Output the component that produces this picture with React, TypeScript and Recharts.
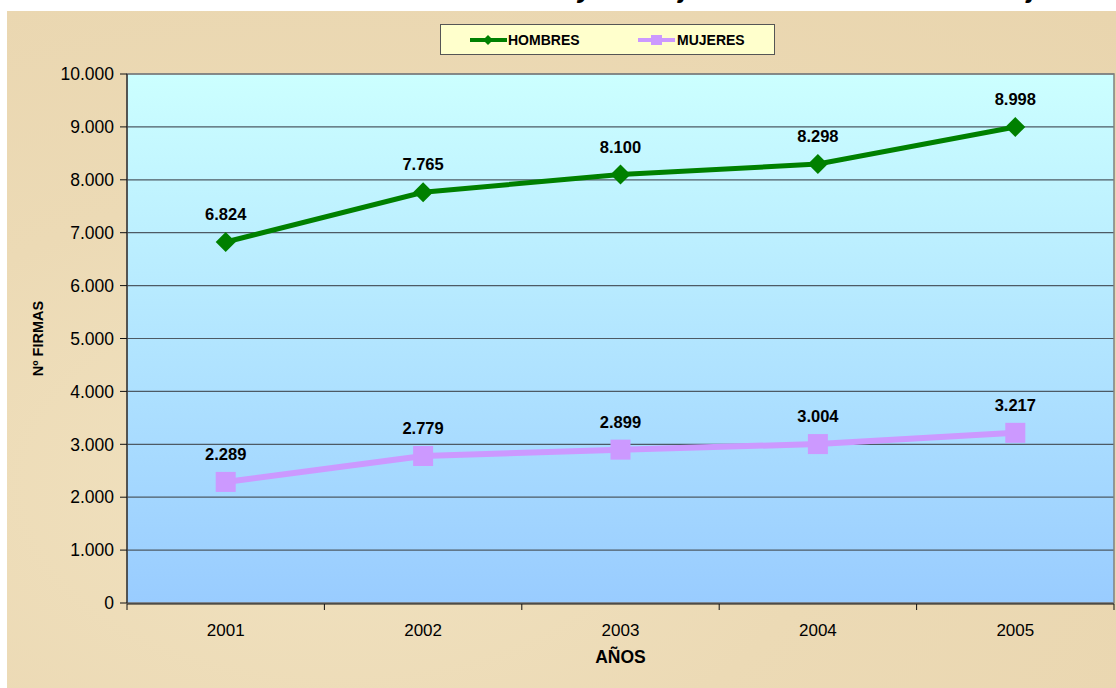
import { LineChart, Line, XAxis, YAxis, CartesianGrid, LabelList, ReferenceArea } from 'recharts';

const years = [2001, 2002, 2003, 2004, 2005];
const yearEdges = [2000.5, 2001.5, 2002.5, 2003.5, 2004.5, 2005.5];
const hombres = [6824, 7765, 8100, 8298, 8998];
const mujeres = [2289, 2779, 2899, 3004, 3217];
const yTicks = [0, 1000, 2000, 3000, 4000, 5000, 6000, 7000, 8000, 9000, 10000];

const data = years.map((year, i) => ({ year, hombres: hombres[i], mujeres: mujeres[i] }));

const FONT = '"Liberation Sans", Arial, sans-serif';
const GREEN = '#008000';
const LILAC = '#cc99ff';

const fmt = (v: number | string) => String(v).replace(/\B(?=(\d{3})+(?!\d))/g, '.');

const Diamond = (props: any) => {
  const { cx, cy } = props;
  if (cx == null || cy == null) return null;
  return <polygon points={`${cx},${cy - 10} ${cx + 10},${cy} ${cx},${cy + 10} ${cx - 10},${cy}`} fill={GREEN} />;
};

const Square = (props: any) => {
  const { cx, cy } = props;
  if (cx == null || cy == null) return null;
  return <rect x={cx - 10} y={cy - 10} width={20} height={20} fill={LILAC} />;
};

const YTitle = (props: any) => {
  const vb = props.viewBox || {};
  const cy = vb.y + vb.height / 2;
  return (
    <text x={43} y={cy} transform={`rotate(-90 43 ${cy})`} textAnchor="middle" fontFamily={FONT}
      fontSize={14.5} fontWeight="bold" fill="#000">
      Nº FIRMAS
    </text>
  );
};

const labelStyle = { fontFamily: FONT, fontSize: 16.5, fontWeight: 'bold', fill: '#000' };

export default function App() {
  return (
    <div style={{ position: 'absolute', left: 0, top: 0, width: 1116, height: 688, background: '#fff', overflow: 'hidden' }}>
      {/* clipped title at the very top */}
      <div style={{ position: 'absolute', left: 0, top: 0, width: 1116, height: 11, overflow: 'hidden',
        fontFamily: FONT, fontSize: 27, fontWeight: 'bold', fontStyle: 'italic', lineHeight: '27px', whiteSpace: 'nowrap' }}>
        <span style={{ position: 'absolute', right: 1116 - 578, top: -25 }}>Evolución anual del número de hombres </span>
        <span style={{ position: 'absolute', left: 578, top: -25 }}>y de mujeres en las firmas de trabajo</span>
      </div>
      <div style={{ position: 'absolute', left: 7, top: 11, width: 1109, height: 677,
        background: 'radial-gradient(ellipse at 30% 70%, #f1e2c0 0%, #ecdab5 45%, #e9d5ae 100%)' }} />
      <div style={{ position: 'absolute', left: 0, top: 0 }}>
        <LineChart width={1116} height={688} data={data} margin={{ top: 74, right: 2, bottom: 83, left: 0 }}>
          <defs>
            <linearGradient id="plotBg" x1="0" y1="0" x2="0" y2="1">
              <stop offset="0%" stopColor="#ccffff" />
              <stop offset="100%" stopColor="#99ccff" />
            </linearGradient>
          </defs>
          <CartesianGrid vertical={false} stroke="#4d5a64" strokeWidth={1.2} fill="url(#plotBg)" fillOpacity={1} />
          <ReferenceArea x1={2000.5} x2={2005.5} y1={0} y2={10000} fill="none" stroke="#808080" strokeWidth={1.5} />
          <XAxis xAxisId="edges" type="number" dataKey="year" domain={[2000.5, 2005.5]} ticks={yearEdges}
            height={1} tickFormatter={() => ''} tickSize={6} stroke="#111" tickLine={{ stroke: '#111' }}
            axisLine={{ stroke: '#111' }} allowDataOverflow />
          <XAxis type="number" dataKey="year" domain={[2000.5, 2005.5]} ticks={years} height={1}
            axisLine={false} tickLine={false} tickSize={0} tickMargin={21}
            tick={{ fontFamily: FONT, fontSize: 17, fill: '#000' }}
            label={{ value: 'AÑOS', position: 'bottom', offset: 47, fontFamily: FONT, fontSize: 17.5, fontWeight: 'bold', fill: '#000' }} />
          <YAxis width={127} domain={[0, 10000]} ticks={yTicks} tickFormatter={fmt} tickSize={7} tickMargin={6}
            stroke="#111" tick={{ fontFamily: FONT, fontSize: 17.5, fill: '#000' }} interval={0}
            label={<YTitle />} />
          <Line dataKey="hombres" stroke={GREEN} strokeWidth={5} dot={<Diamond />} activeDot={false} isAnimationActive={false}>
            <LabelList dataKey="hombres" position="top" offset={22} formatter={fmt} style={labelStyle} />
          </Line>
          <Line dataKey="mujeres" stroke={LILAC} strokeWidth={6} dot={<Square />} activeDot={false} isAnimationActive={false}>
            <LabelList dataKey="mujeres" position="top" offset={22} formatter={fmt} style={labelStyle} />
          </Line>
        </LineChart>
      </div>
      {/* legend */}
      <div style={{ position: 'absolute', left: 440, top: 24, width: 333, height: 29, background: '#ffffcc',
        border: '1px solid #555', boxSizing: 'content-box' }}>
        <svg width={333} height={29} style={{ position: 'absolute', left: 0, top: 0 }}>
          <line x1={29} y1={15} x2={66} y2={15} stroke={GREEN} strokeWidth={4} />
          <polygon points="47,10 52,15 47,20 42,15" fill={GREEN} />
          <text x={67} y={20} fontFamily={FONT} fontSize={14} fontWeight="bold" fill="#000">HOMBRES</text>
          <line x1={197} y1={15} x2={234} y2={15} stroke={LILAC} strokeWidth={4} />
          <rect x={210} y={10} width={11} height={10} fill={LILAC} />
          <text x={236} y={20} fontFamily={FONT} fontSize={14} fontWeight="bold" fill="#000">MUJERES</text>
        </svg>
      </div>
    </div>
  );
}
